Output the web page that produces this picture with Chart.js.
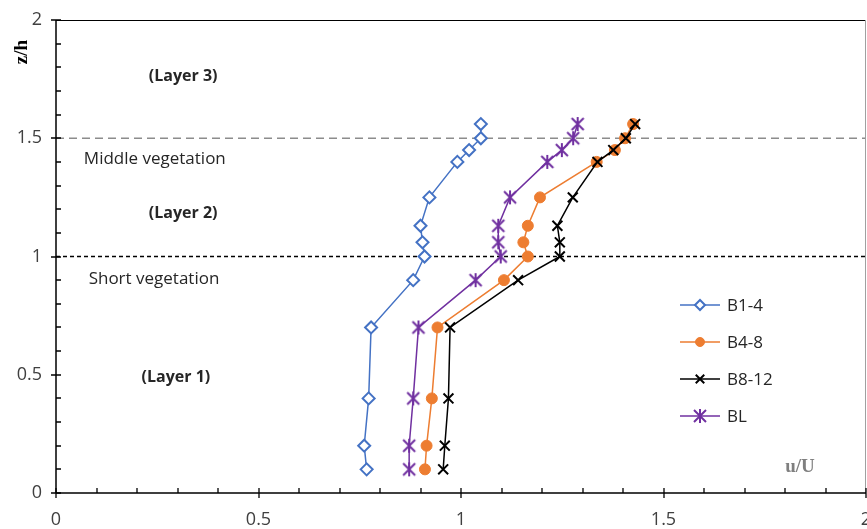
<!DOCTYPE html>
<html>
<head>
<meta charset="utf-8">
<script src="https://cdn.jsdelivr.net/npm/chart.js@4"></script>
<style>
  html, body { margin: 0; padding: 0; background: #fff; overflow: hidden; }
  canvas { display: block; }
</style>
</head>
<body>
<canvas id="graf" width="867" height="529"></canvas>
<script>
// relative height z/h (same for all profiles)
const heights = [0.1, 0.2, 0.4, 0.7, 0.9, 1.0, 1.06, 1.13, 1.25, 1.4, 1.45, 1.5, 1.56];
// u/U for each profile
const b1_4  = [0.767, 0.761, 0.772, 0.778, 0.882, 0.91, 0.905, 0.90, 0.922, 0.991, 1.02, 1.049, 1.049];
const b4_8  = [0.911, 0.915, 0.928, 0.942, 1.106, 1.165, 1.154, 1.165, 1.195, 1.335, 1.38, 1.405, 1.425];
const b8_12 = [0.956, 0.96, 0.969, 0.973, 1.141, 1.244, 1.244, 1.238, 1.276, 1.337, 1.376, 1.407, 1.43];
const bl    = [0.872, 0.872, 0.882, 0.895, 1.036, 1.098, 1.092, 1.092, 1.121, 1.213, 1.249, 1.277, 1.288];
const seriesNames = ["B1-4", "B4-8", "B8-12", "BL"];

// vegetation boundaries
const shortVegLine = 1.0;
const middleVegLine = 1.5;
const xRange = [0, 2];
const tickValues = [0, 0.5, 1, 1.5, 2];
const tickLabels = ["0", "0.5", "1", "1.5", "2"];

// text notes: [text, x, y, bold]
const notes = [
    ["(Layer 3)", 0.314, 1.76, true],
    ["Middle vegetation", 0.244, 1.41, false],
    ["(Layer 2)", 0.314, 1.18, true],
    ["Short vegetation", 0.242, 0.905, false],
    ["(Layer 1)", 0.296, 0.49, true]
];

function toPoints(xs) {
    return xs.map((v, i) => ({ x: v, y: heights[i] }));
}

// asterisk marker (X with a vertical stroke) like in Excel
function makeStar(color) {
    const c = document.createElement("canvas");
    c.width = 16; c.height = 16;
    const g = c.getContext("2d");
    g.strokeStyle = color;
    g.lineWidth = 2;
    g.beginPath();
    g.moveTo(2, 2); g.lineTo(14, 14);
    g.moveTo(14, 2); g.lineTo(2, 14);
    g.moveTo(8, 1); g.lineTo(8, 15);
    g.stroke();
    return c;
}
const starImg = makeStar("#7030A0");

const fontSans = "'Open Sans', 'Noto Sans', sans-serif";
const fontSerif = "'Liberation Serif', 'DejaVu Serif', serif";

// order: lower number is drawn on top
const datasets = [
    { label: seriesNames[0], data: toPoints(b1_4), borderColor: "#4472C4", backgroundColor: "#ffffff",
      pointStyle: "rectRot", pointRadius: 6, pointBorderWidth: 2, borderWidth: 1.5, order: 1 },
    { label: seriesNames[1], data: toPoints(b4_8), borderColor: "#ED7D31", backgroundColor: "#ED7D31",
      pointStyle: "circle", pointRadius: 5.5, pointBorderWidth: 1, borderWidth: 1.5, order: 3 },
    { label: seriesNames[2], data: toPoints(b8_12), borderColor: "#000000", backgroundColor: "#000000",
      pointStyle: "crossRot", pointRadius: 7, pointBorderWidth: 2, borderWidth: 1.5, order: 2 },
    { label: seriesNames[3], data: toPoints(bl), borderColor: "#7030A0", backgroundColor: "#7030A0",
      pointStyle: starImg, pointRadius: 8, pointBorderWidth: 2, borderWidth: 1.5, order: 1 },
    // dashed boundary lines
    { label: "middle", data: [{ x: xRange[0], y: middleVegLine }, { x: xRange[1], y: middleVegLine }],
      borderColor: "#8c8c8c", borderDash: [8, 5], borderWidth: 1.5, pointRadius: 0, order: 10 },
    { label: "short", data: [{ x: xRange[0], y: shortVegLine }, { x: xRange[1], y: shortVegLine }],
      borderColor: "#000000", borderDash: [4, 3], borderWidth: 1.5, pointRadius: 0, order: 10 }
];

// plot area runs to the right edge (the "2" label is cut like in the original)
const fixArea = {
    id: "fixArea",
    afterLayout(chart) {
        const a = chart.chartArea;
        const xs = chart.scales.x;
        a.right = 866;
        a.width = a.right - a.left;
        xs.right = 866;
        xs.width = xs.right - xs.left;
        xs.configure();
    }
};

// ticks, tick labels, frame, notes, axis titles and the legend drawn by hand
const extras = {
    id: "extras",
    afterDraw(chart) {
        const ctx = chart.ctx;
        const xs = chart.scales.x, ys = chart.scales.y;
        const a = chart.chartArea;
        ctx.save();

        // frame
        ctx.strokeStyle = "#000";
        ctx.lineWidth = 1;
        ctx.beginPath();
        ctx.moveTo(a.left, a.top + 0.5); ctx.lineTo(a.right, a.top + 0.5);
        ctx.stroke();
        ctx.strokeStyle = "#a0a0a0";
        ctx.beginPath();
        ctx.moveTo(a.right - 0.5, a.top); ctx.lineTo(a.right - 0.5, a.bottom);
        ctx.stroke();

        // axes
        ctx.strokeStyle = "#000";
        ctx.lineWidth = 1.5;
        ctx.beginPath();
        ctx.moveTo(a.left, a.top); ctx.lineTo(a.left, a.bottom);
        ctx.moveTo(a.left, a.bottom); ctx.lineTo(a.right, a.bottom);
        ctx.stroke();

        // minor (inside) and major (crossing) ticks
        ctx.lineWidth = 1.3;
        ctx.beginPath();
        for (let i = 0; i <= 20; i++) {
            const v = i / 10;
            const major = i % 5 === 0;
            const px = Math.round(xs.getPixelForValue(v));
            ctx.moveTo(px, a.bottom + (major ? 5 : 0));
            ctx.lineTo(px, a.bottom - 5);
            const py = Math.round(ys.getPixelForValue(v));
            ctx.moveTo(a.left - (major ? 5 : 0), py);
            ctx.lineTo(a.left + 5, py);
        }
        ctx.stroke();

        // tick labels
        ctx.fillStyle = "#404040";
        ctx.font = "18px " + fontSans;
        ctx.textBaseline = "middle";
        tickValues.forEach((v, i) => {
            ctx.textAlign = "center";
            ctx.fillText(tickLabels[i], xs.getPixelForValue(v), a.bottom + 27);
            ctx.textAlign = "right";
            ctx.fillText(tickLabels[i], a.left - 14, ys.getPixelForValue(v));
        });

        // text notes
        ctx.fillStyle = "#262626";
        ctx.textAlign = "center";
        notes.forEach(n => {
            ctx.font = n[3] ? "bold 16px " + fontSans : "17px " + fontSans;
            ctx.fillText(n[0], xs.getPixelForValue(n[1]), ys.getPixelForValue(n[2]));
        });

        // axis titles
        ctx.font = "bold 19px " + fontSerif;
        ctx.fillStyle = "#7f7f7f";
        ctx.fillText("u/U", xs.getPixelForValue(1.837), ys.getPixelForValue(0.108));
        ctx.fillStyle = "#000";
        ctx.translate(22, 52);
        ctx.rotate(-Math.PI / 2);
        ctx.fillText("z/h", 0, 0);
        ctx.setTransform(1, 0, 0, 1, 0, 0);

        // legend
        ctx.textAlign = "left";
        ctx.font = "17px " + fontSans;
        for (let i = 0; i < 4; i++) {
            const ds = chart.data.datasets[i];
            const y = 305 + i * 37;
            ctx.strokeStyle = ds.borderColor;
            ctx.lineWidth = 1.5;
            ctx.setLineDash([]);
            ctx.beginPath();
            ctx.moveTo(680, y); ctx.lineTo(720, y);
            ctx.stroke();
            ctx.fillStyle = ds.backgroundColor;
            ctx.lineWidth = ds.pointBorderWidth;
            Chart.helpers.drawPoint(ctx, { pointStyle: ds.pointStyle, radius: ds.pointRadius - 1,
                borderWidth: ds.pointBorderWidth, rotation: 0 }, 700, y);
            ctx.fillStyle = "#262626";
            ctx.fillText(ds.label, 727, y + 1);
        }
        ctx.restore();
    }
};

const ctx = document.getElementById("graf").getContext("2d");
new Chart(ctx, {
    type: "scatter",
    data: { datasets: datasets },
    options: {
        responsive: false,
        animation: false,
        showLine: true,
        layout: { padding: { top: 20, right: 1, left: 56, bottom: 36 } },
        plugins: { legend: { display: false }, tooltip: { enabled: false } },
        scales: {
            x: {
                type: "linear", min: xRange[0], max: xRange[1],
                grid: { display: false }, border: { display: false },
                ticks: { display: false },
                afterFit: (s) => { s.height = 0; s.paddingLeft = 0; s.paddingRight = 0; }
            },
            y: {
                type: "linear", min: xRange[0], max: xRange[1],
                grid: { display: false }, border: { display: false },
                ticks: { display: false },
                afterFit: (s) => { s.width = 0; s.paddingTop = 0; s.paddingBottom = 0; }
            }
        }
    },
    plugins: [fixArea, extras]
});
</script>
</body>
</html>
